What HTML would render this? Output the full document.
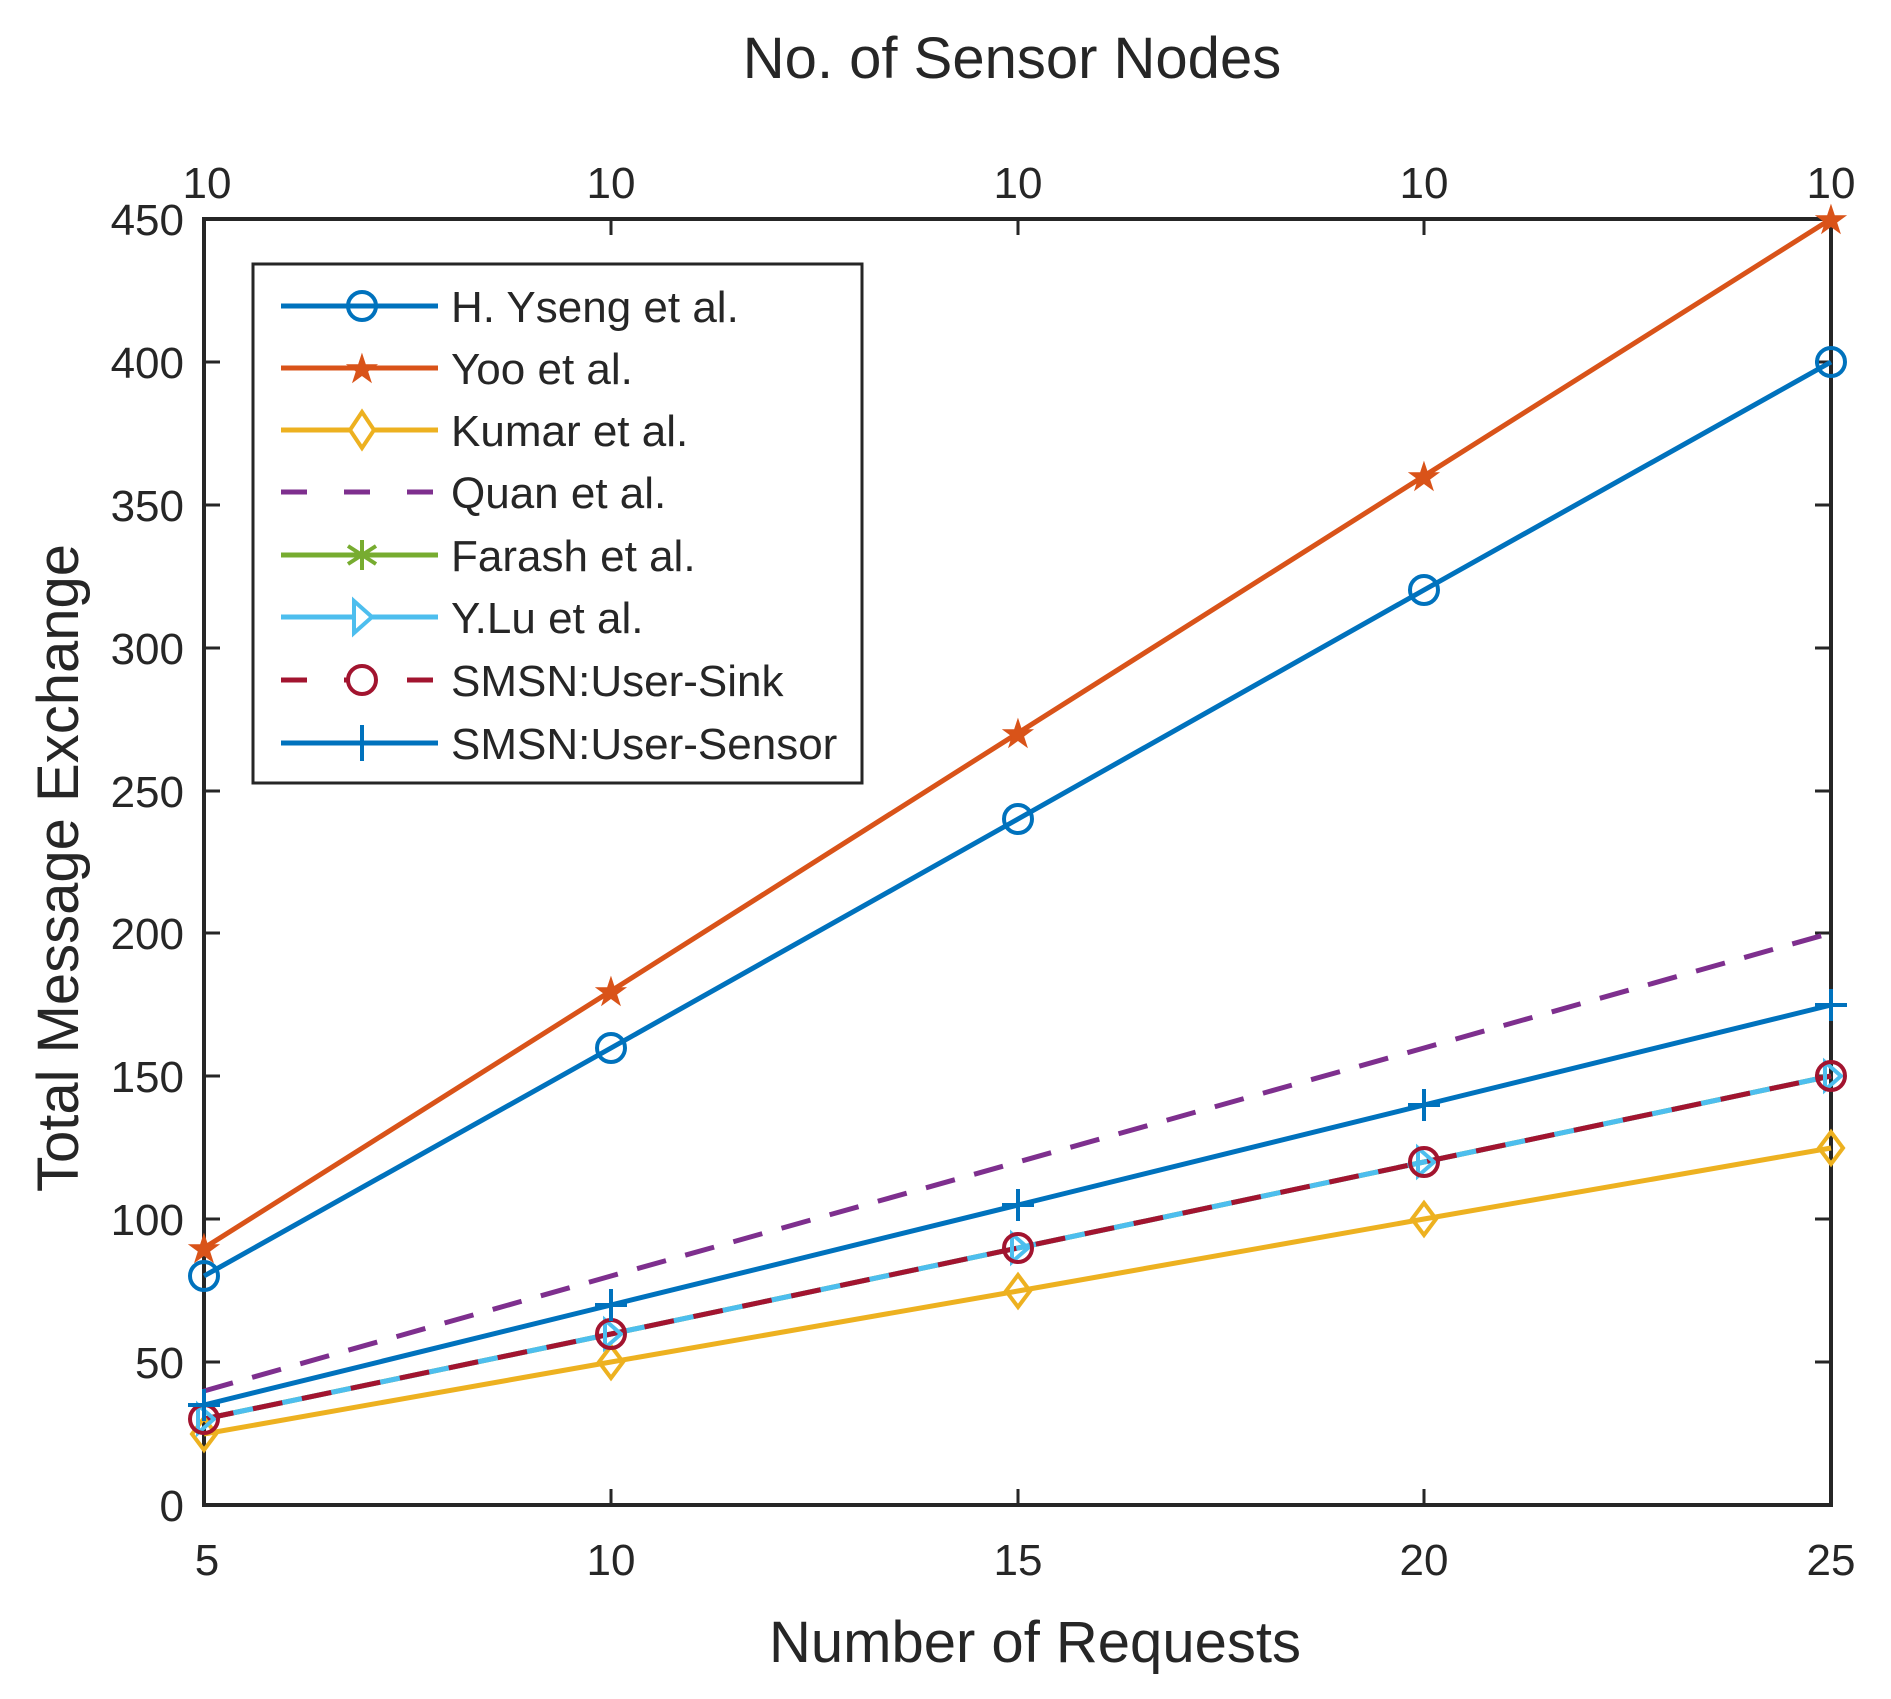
<!DOCTYPE html>
<html><head><meta charset="utf-8"><style>
html,body{margin:0;padding:0;background:#fff}
svg{display:block}
text{font-family:"Liberation Sans",Arial,sans-serif;fill:#262626}
</style></head><body>
<svg width="1891" height="1699" viewBox="0 0 1891 1699" xmlns="http://www.w3.org/2000/svg">
<defs>
<g id="circ"><circle r="14" fill="none" stroke-width="4"/></g>
</defs>
<!-- axes box -->
<rect x="204" y="219" width="1627" height="1286" fill="none" stroke="#262626" stroke-width="4"/>
<!-- ticks -->
<g stroke="#262626" stroke-width="3">
<path d="M204,1362h16M204,1219h16M204,1076h16M204,933h16M204,791h16M204,648h16M204,505h16M204,362h16"/>
<path d="M1831,1362h-16M1831,1219h-16M1831,1076h-16M1831,933h-16M1831,791h-16M1831,648h-16M1831,505h-16M1831,362h-16"/>
<path d="M611,1505v-16M1018,1505v-16M1424,1505v-16"/>
<path d="M611,219v16M1018,219v16M1424,219v16"/>
</g>
<!-- y tick labels -->
<g font-size="44" text-anchor="end">
<text x="184" y="1521">0</text>
<text x="184" y="1378">50</text>
<text x="184" y="1235">100</text>
<text x="184" y="1092">150</text>
<text x="184" y="949">200</text>
<text x="184" y="807">250</text>
<text x="184" y="664">300</text>
<text x="184" y="521">350</text>
<text x="184" y="378">400</text>
<text x="184" y="235">450</text>
</g>
<g font-size="44" text-anchor="middle">
<text x="207" y="1575">5</text>
<text x="611" y="1575">10</text>
<text x="1018" y="1575">15</text>
<text x="1424" y="1575">20</text>
<text x="1831" y="1575">25</text>
<text x="207" y="198">10</text>
<text x="611" y="198">10</text>
<text x="1018" y="198">10</text>
<text x="1424" y="198">10</text>
<text x="1831" y="198">10</text>
</g>
<text x="1012" y="78" font-size="58" text-anchor="middle">No. of Sensor Nodes</text>
<text x="1035" y="1662" font-size="58" text-anchor="middle">Number of Requests</text>
<text transform="translate(78,868) rotate(-90)" font-size="58" text-anchor="middle">Total Message Exchange</text>

<!-- series: Y(v)=1505-v*2.8578 ; X = 204,611,1018,1424,1831 -->
<g fill="none" stroke-width="5" stroke-linejoin="round">
<!-- Kumar -->
<polyline stroke="#EDB120" points="204,1434 611,1362 1018,1291 1424,1219 1831,1148"/>
<!-- Quan -->
<polyline stroke="#7E2F8E" stroke-dasharray="30,20" points="204,1391 611,1276 1018,1162 1424,1048 1831,933"/>
<!-- Farash -->
<polyline stroke="#77AC30" points="204,1419 611,1334 1018,1248 1424,1162 1831,1076"/>
<!-- Y.Lu -->
<polyline stroke="#4DBEEE" points="204,1419 611,1334 1018,1248 1424,1162 1831,1076"/>
<!-- SMSN sink -->
<polyline stroke="#A2142F" stroke-dasharray="30,20" points="204,1419 611,1334 1018,1248 1424,1162 1831,1076"/>
<!-- SMSN sensor -->
<polyline stroke="#0072BD" points="204,1405 611,1305 1018,1205 1424,1105 1831,1005"/>
<!-- H Yseng -->
<polyline stroke="#0072BD" points="204,1276 611,1048 1018,819 1424,590 1831,362"/>
<!-- Yoo -->
<polyline stroke="#D95319" points="204,1248 611,991 1018,733 1424,476 1831,219"/>
</g>
<!-- markers -->
<g fill="none" stroke-width="4">
<g stroke="#EDB120">
<path d="M204,1418l12,16l-12,16l-12,-16z M611,1346l12,16l-12,16l-12,-16z M1018,1275l12,16l-12,16l-12,-16z M1424,1203l12,16l-12,16l-12,-16z M1831,1132l12,16l-12,16l-12,-16z"/>
</g>
<g stroke="#4DBEEE">
<path d="M198,1405l16,14l-16,14z M605,1320l16,14l-16,14z M1012,1234l16,14l-16,14z M1418,1148l16,14l-16,14z M1825,1062l16,14l-16,14z"/>
</g>
<g stroke="#A2142F">
<circle cx="204" cy="1419" r="14"/><circle cx="611" cy="1334" r="14"/><circle cx="1018" cy="1248" r="14"/><circle cx="1424" cy="1162" r="14"/><circle cx="1831" cy="1076" r="14"/>
</g>
<g stroke="#0072BD">
<path d="M188,1405h32M204,1389v32 M595,1305h32M611,1289v32 M1002,1205h32M1018,1189v32 M1408,1105h32M1424,1089v32 M1815,1005h32M1831,989v32"/>
<circle cx="204" cy="1276" r="14"/><circle cx="611" cy="1048" r="14"/><circle cx="1018" cy="819" r="14"/><circle cx="1424" cy="590" r="14"/><circle cx="1831" cy="362" r="14"/>
</g>
</g>
<g fill="#D95319" font-size="42" text-anchor="middle">
<text x="204" y="1263" style="fill:#D95319">★</text>
<text x="611" y="1006" style="fill:#D95319">★</text>
<text x="1018" y="748" style="fill:#D95319">★</text>
<text x="1424" y="491" style="fill:#D95319">★</text>
<text x="1831" y="234" style="fill:#D95319">★</text>
</g>

<!-- legend -->
<rect x="253" y="264" width="609" height="519" fill="#fff" stroke="#262626" stroke-width="3"/>
<g stroke-width="5" fill="none">
<line x1="281" y1="306" x2="438" y2="306" stroke="#0072BD"/>
<circle cx="362" cy="306" r="14" stroke="#0072BD" stroke-width="4" fill="none"/>
<line x1="281" y1="368" x2="438" y2="368" stroke="#D95319"/>
<line x1="281" y1="430" x2="438" y2="430" stroke="#EDB120"/>
<path d="M362,412l12,18l-12,18l-12,-18z" stroke="#EDB120" stroke-width="4" fill="#fff"/>
<line x1="281" y1="492" x2="438" y2="492" stroke="#7E2F8E" stroke-dasharray="26,37"/>
<line x1="281" y1="555" x2="438" y2="555" stroke="#77AC30"/>
<path d="M362,540v30M348,546l28,18M348,564l28,-18" stroke="#77AC30" stroke-width="4"/>
<line x1="281" y1="617" x2="438" y2="617" stroke="#4DBEEE"/>
<path d="M354,601l18,16l-18,16z" stroke="#4DBEEE" stroke-width="4" fill="#fff"/>
<line x1="281" y1="680" x2="438" y2="680" stroke="#A2142F" stroke-dasharray="26,37"/>
<circle cx="362" cy="680" r="14" stroke="#A2142F" stroke-width="4" fill="#fff"/>
<line x1="281" y1="743" x2="438" y2="743" stroke="#0072BD"/>
<path d="M362,725v36" stroke="#0072BD" stroke-width="4"/>
</g>
<text x="362" y="383" font-size="42" text-anchor="middle" style="fill:#D95319">★</text>
<g font-size="44" style="fill:#000">
<text x="451" y="322">H. Yseng et al.</text>
<text x="451" y="384">Yoo et al.</text>
<text x="451" y="446">Kumar et al.</text>
<text x="451" y="508">Quan et al.</text>
<text x="451" y="571">Farash et al.</text>
<text x="451" y="633">Y.Lu et al.</text>
<text x="451" y="696">SMSN:User-Sink</text>
<text x="451" y="759">SMSN:User-Sensor</text>
</g>
</svg>
</body></html>
